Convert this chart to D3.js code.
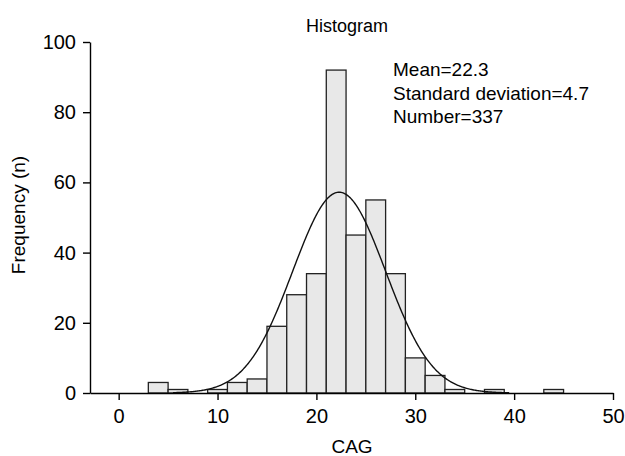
<!DOCTYPE html>
<html lang="en">
  <head>
    <meta charset="UTF-8">
    <title>Histogram</title>
    <script src="https://d3js.org/d3.v7.min.js"></script>
    <style>
      body { margin: 0; padding: 0; background: #fff; }
      svg { display: block; font-family: Arial, 'Liberation Sans', sans-serif; }
      .axis path, .axis line { stroke: #000; stroke-width: 1.4; }
      .axis text { font-size: 20px; fill: #000; }
    </style>
  </head>
  <body>
    <script>
      // bin starts (CAG) and counts per bin, width 2
      const binStarts = [3, 5, 7, 9, 11, 13, 15, 17, 19, 21, 23, 25, 27, 29, 31, 33, 35, 37, 39, 41, 43];
      const counts    = [3, 1, 0, 1, 3, 4, 19, 28, 34, 92, 45, 55, 34, 10, 5, 1, 0, 1, 0, 0, 1];
      const binWidth = 2;
      const xTicks = [0, 10, 20, 30, 40, 50];
      const yTicks = [0, 20, 40, 60, 80, 100];
      const stats = ["Mean=22.3", "Standard deviation=4.7", "Number=337"];
      const mean = 22.3, sd = 4.7, total = 337;

      const W = 625, H = 456;
      const svg = d3.select("body").append("svg").attr("width", W).attr("height", H);

      const x = d3.scaleLinear().domain([-2.9, 50]).range([90, 613]);
      const y = d3.scaleLinear().domain([0, 100]).range([393, 42]);

      const bins = binStarts.map((s, i) => ({ start: s, n: counts[i] })).filter(d => d.n > 0);

      // bars
      svg.selectAll(".bar").data(bins).enter().append("rect")
        .attr("class", "bar")
        .attr("x", d => x(d.start))
        .attr("width", d => x(d.start + binWidth) - x(d.start))
        .attr("y", d => y(d.n))
        .attr("height", d => y(0) - y(d.n))
        .attr("fill", "#e8e8e8")
        .attr("stroke", "#222")
        .attr("stroke-width", 1.3);

      // fitted normal curve
      const pts = d3.range(5.5, 39.6, 0.1).map(v => [v,
        total * binWidth / (sd * Math.sqrt(2 * Math.PI)) * Math.exp(-0.5 * ((v - mean) / sd) ** 2)]);
      svg.append("path").datum(pts)
        .attr("d", d3.line().x(d => x(d[0])).y(d => y(d[1])))
        .attr("fill", "none").attr("stroke", "#111").attr("stroke-width", 1.4);

      // axes
      svg.append("g").attr("class", "axis").attr("transform", "translate(0,393)")
        .call(d3.axisBottom(x).tickValues(xTicks).tickSize(7).tickPadding(9).tickSizeOuter(0));
      svg.append("g").attr("class", "axis").attr("transform", "translate(90,0)")
        .call(d3.axisLeft(y).tickValues(yTicks).tickSize(7).tickPadding(7).tickSizeOuter(0));

      svg.append("text").attr("x", 347).attr("y", 31.5).attr("text-anchor", "middle")
        .attr("font-size", 18).text("Histogram");
      svg.append("text").attr("x", 352).attr("y", 453).attr("text-anchor", "middle")
        .attr("font-size", 19).text("CAG");
      svg.append("text").attr("transform", "translate(25,215) rotate(-90)")
        .attr("text-anchor", "middle").attr("font-size", 19).text("Frequency (n)");

      svg.selectAll(".stat").data(stats).enter().append("text")
        .attr("class", "stat")
        .attr("x", 393).attr("y", (d, i) => 76 + i * 23.5)
        .attr("font-size", 19).text(d => d);
    </script>
  </body>
</html>
